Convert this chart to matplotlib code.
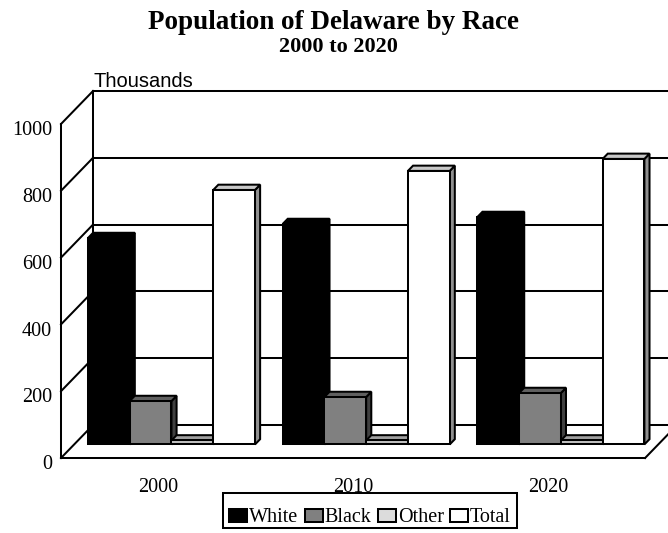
import matplotlib
matplotlib.use("Agg")
import matplotlib.pyplot as plt
from matplotlib.patches import Polygon, Patch, Rectangle

# Population in thousands
years = ["2000", "2010", "2020"]
series = ["White", "Black", "Other", "Total"]
white = [618, 660, 681]
black = [130, 142, 154]
other = [12, 12, 12]
total = [762, 819, 855]
y_ticks = [0, 200, 400, 600, 800, 1000]

values = [white, black, other, total]

# face colours per series: front, top, side
faces = {
    "White": ("#000000", "#000000", "#000000"),
    "Black": ("#808080", "#606060", "#404040"),
    "Other": ("#C0C0C0", "#A0A0A0", "#808080"),
    "Total": ("#FFFFFF", "#C8C8C8", "#909090"),
}

plt.rcParams["font.family"] = ["Liberation Serif", "DejaVu Serif"]

W, H = 668, 533
fig = plt.figure(figsize=(W / 100, H / 100), dpi=100)
ax = fig.add_axes([0, 0, 1, 1])
ax.set_xlim(-0.3133, 3.1176)
ax.set_ylim(-224.55, 1371.26)
ax.axis("off")

# oblique depth: z=0 front plane, z=1 back wall
DX, DY = 0.1644, 98.8
ZF, ZB = 0.41, 0.57
LW = 1.45
n_cat = len(years)
vmax = y_ticks[-1]


def P(x, v, z):
    return (x + z * DX, v + z * DY)


def line(pts, z=2, **kw):
    xs, ys = zip(*pts)
    ax.plot(xs, ys, color="black", lw=LW, solid_capstyle="projecting",
            zorder=z, **kw)


# back wall gridlines and left wall
for t in y_ticks:
    line([P(0, t, 1), P(n_cat + 0.2, t, 1)])
    line([P(0, t, 0), P(0, t, 1)])
line([P(0, 0, 1), P(0, vmax, 1)])
line([P(0, 0, 0), P(0, vmax, 0)])
# floor
line([P(0, 0, 0), P(n_cat, 0, 0)])
line([P(n_cat, 0, 0), P(n_cat, 0, 1)])

# bars
gap = 0.071
bw = (1 - 2 * gap) / len(series)
z = 10
for i in range(n_cat):
    for j, name in enumerate(series):
        v = values[j][i]
        x0 = i + gap + j * bw
        x1 = x0 + bw
        fc, tc, sc = faces[name]
        side = [P(x1, 0, ZF), P(x1, v, ZF), P(x1, v, ZB), P(x1, 0, ZB)]
        top = [P(x0, v, ZF), P(x1, v, ZF), P(x1, v, ZB), P(x0, v, ZB)]
        front = [P(x0, 0, ZF), P(x1, 0, ZF), P(x1, v, ZF), P(x0, v, ZF)]
        for pts, c in ((side, sc), (top, tc), (front, fc)):
            ax.add_patch(Polygon(pts, closed=True, facecolor=c,
                                 edgecolor="black", lw=LW, joinstyle="miter",
                                 zorder=z))
        z += 1

# y tick labels
for t in y_ticks:
    ax.text(-0.046, t - 20, str(t), ha="right", va="center", fontsize=14.5)

# category labels
for i, yr in enumerate(years):
    ax.text(i + 0.5, -88, yr, ha="center", va="center", fontsize=14.5)

ax.text(DX, vmax + DY + 12, "Thousands", ha="left", va="baseline",
        fontsize=14.5, family=["Liberation Sans", "DejaVu Sans"])

fig.text(0.5, 1 - 22 / H, "Population of Delaware by Race", ha="center",
         va="center", fontsize=19.5, fontweight="bold")
fig.text(0.507, 1 - 47 / H, "2000 to 2020", ha="center", va="center",
         fontsize=16, fontweight="bold")

handles = [Patch(facecolor=faces[s][0] if s != "Other" else "#DCDCDC",
                 edgecolor="black", lw=LW) for s in series]
leg = fig.legend(handles, series, loc="center",
                 bbox_to_anchor=(370 / W, 1 - 518 / H), ncol=4,
                 fontsize=14.5, frameon=False,
                 handlelength=0.9, handleheight=0.65, handletextpad=0.1,
                 columnspacing=0.3, borderpad=0, borderaxespad=0)
# legend border
fig.add_artist(Rectangle((223 / W, 1 - 528 / H), 294 / W, 35 / H,
                         transform=fig.transFigure, fill=False,
                         edgecolor="black", lw=LW))

fig.savefig("out.png", dpi=100)
